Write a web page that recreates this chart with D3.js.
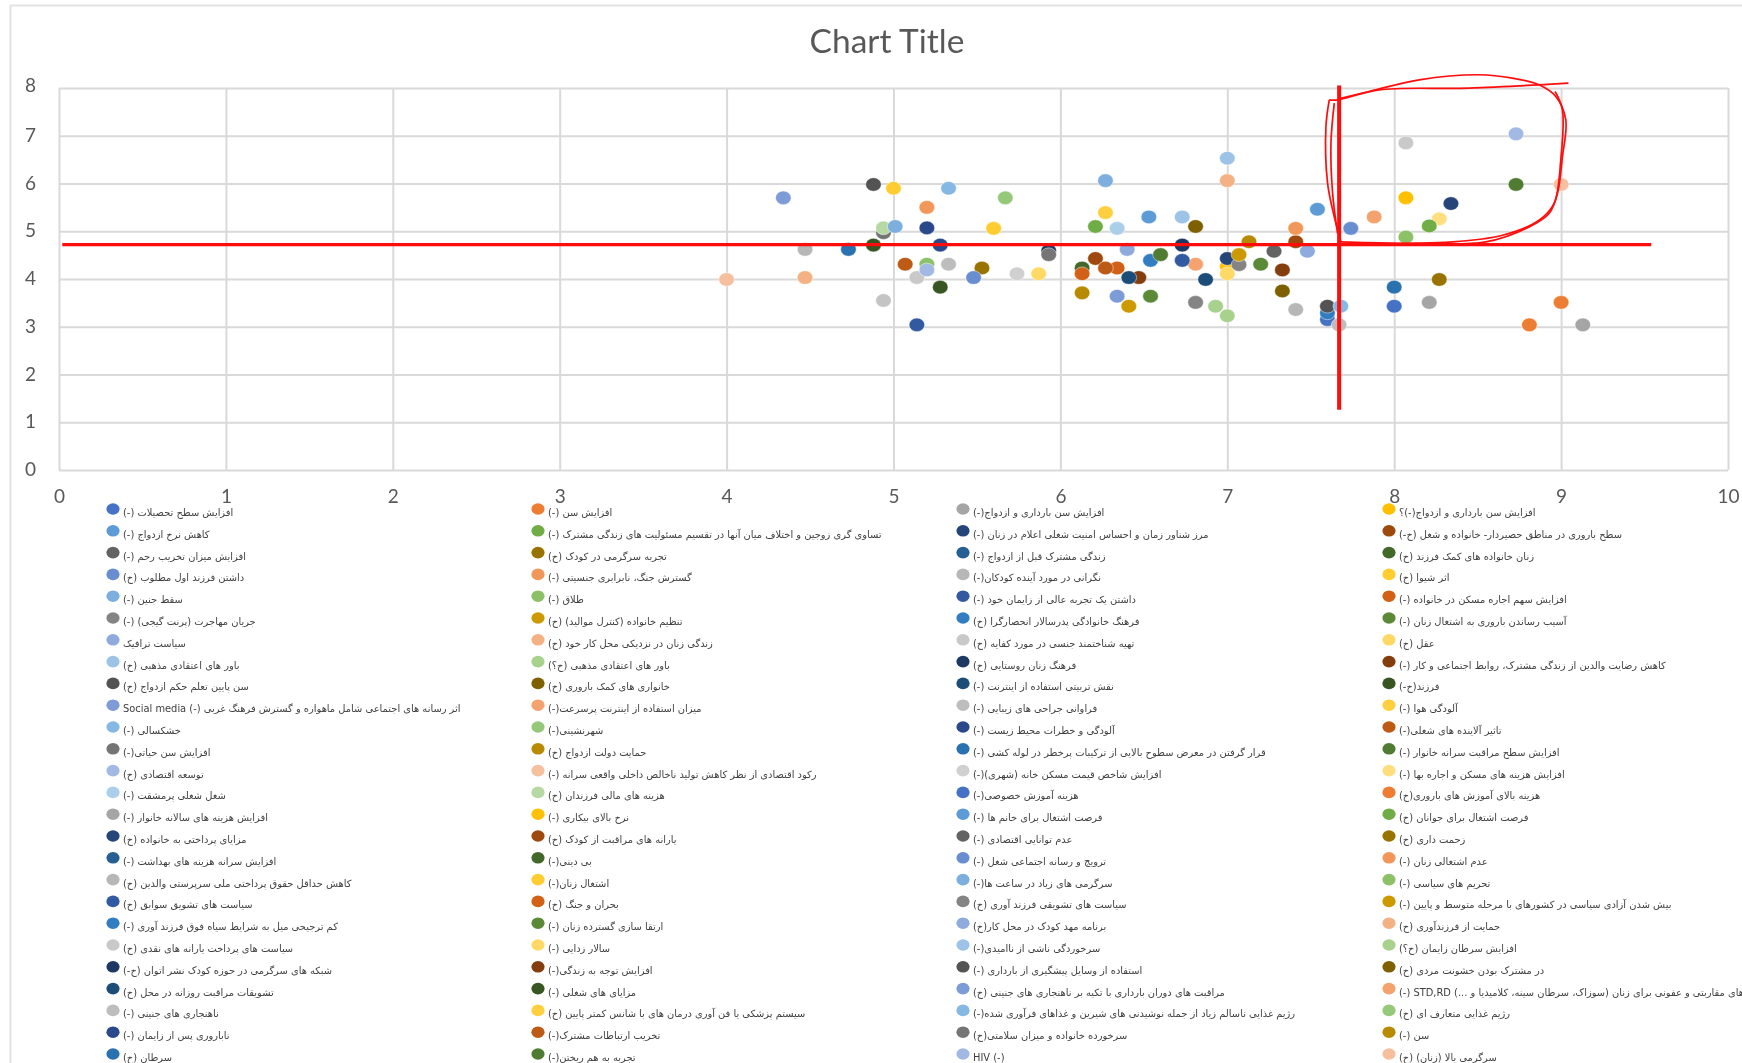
<!DOCTYPE html>
<html lang="fa">
<head>
<meta charset="utf-8">
<script src="https://cdn.jsdelivr.net/npm/d3@7"></script>
<style>
html,body{margin:0;padding:0;background:#fff;overflow:hidden}
svg{display:block}
</style>
</head>
<body>
<svg id="chart" width="1742" height="1063"></svg>
<script>
const chartTitle = "Chart Title";
const xTicks = [0,1,2,3,4,5,6,7,8,9,10];
const yTicks = [0,1,2,3,4,5,6,7,8];

// Legend order, row by row across the four legend columns.
const seriesLabels = [
"افزایش سطح تحصیلات (-)","افزایش سن (-)","افزایش سن بارداری و ازدواج(-)","افزایش سن بارداری و ازدواج(-)؟",
"کاهش نرخ ازدواج (-)","تساوی گری زوجین و اختلاف میان آنها در تقسیم مسئولیت های زندگی مشترک (-)","مرز شناور زمان و احساس امنیت شغلی اعلام در زنان (-)","سطح باروری در مناطق حصیردار- خانواده و شغل (خ-)",
"افزایش میزان تخریب رحم (-)","تجربه سرگرمی در کودک (خ)","زندگی مشترک قبل از ازدواج (-)","زنان خانواده های کمک فرزند (خ)",
"داشتن فرزند اول مطلوب (خ)","گسترش جنگ، نابرابری جنسیتی (-)","نگرانی در مورد آینده کودکان(-)","اثر شیوا (خ)",
"سقط جنین (-)","طلاق (-)","داشتن یک تجربه عالی از زایمان خود (-)","افزایش سهم اجاره مسکن در خانواده (-)",
"جریان مهاجرت (پرنت گیجی) (-)","تنظیم خانواده (کنترل موالید) (خ)","فرهنگ خانوادگی پدرسالار انحصارگرا (خ)","آسیب رساندن باروری به اشتغال زنان (-)",
"سیاست ترافیک","زندگی زنان در نزدیکی محل کار خود (خ)","تهیه شناختمند جنسی در مورد کفایه (خ)","عقل (خ)",
"باور های اعتقادی مذهبی (خ)","باور های اعتقادی مذهبی (خ؟)","فرهنگ زنان روستایی (خ)","کاهش رضایت والدین از زندگی مشترک، روابط اجتماعی و کار (-)",
"سن پایین تعلم حکم ازدواج (خ)","خانواری های کمک باروری (خ)","نقش تربیتی استفاده از اینترنت (-)","فرزند(خ-)",
"اثر رسانه های اجتماعی شامل ماهواره و گسترش فرهنگ غربی (-) Social media","میزان استفاده از اینترنت پرسرعت(-)","فراوانی جراحی های زیبایی (-)","آلودگی هوا (-)",
"خشکسالی (-)","شهرنشینی(-)","آلودگی و خطرات محیط زیست (-)","تاثیر آلاینده های شغلی(-)",
"افزایش سن حیاتی(-)","حمایت دولت ازدواج (خ)","قرار گرفتن در معرض سطوح بالایی از ترکیبات پرخطر در لوله کشی (-)","افزایش سطح مراقبت سرانه خانوار (-)",
"توسعه اقتصادی (خ)","رکود اقتصادی از نظر کاهش تولید ناخالص داخلی واقعی سرانه (-)","افزایش شاخص قیمت مسکن خانه (شهری)(-)","افزایش هزینه های مسکن و اجاره بها (-)",
"شغل شغلی پرمشقت (-)","هزینه های مالی فرزندان (خ)","هزینه آموزش خصوصی(-)","هزینه بالای آموزش های باروری(خ)",
"افزایش هزینه های سالانه خانوار (-)","نرخ بالای بیکاری (-)","فرصت اشتغال برای خانم ها (-)","فرصت اشتغال برای جوانان (خ)",
"مزایای پرداختی به خانواده (خ)","یارانه های مراقبت از کودک (خ)","عدم توانایی اقتصادی (-)","زحمت داری (خ)",
"افزایش سرانه هزینه های بهداشت (-)","بی دینی(-)","ترویج و رسانه اجتماعی شغل (-)","عدم اشتغالی زنان (-)",
"کاهش حداقل حقوق پرداختی ملی سرپرستی والدین (خ)","اشتغال زنان(-)","سرگرمی های زیاد در ساعت ها(-)","تحریم های سیاسی (-)",
"سیاست های تشویق سوابق (خ)","بحران و جنگ (خ)","سیاست های تشویقی فرزند آوری (خ)","بیش شدن آزادی سیاسی در کشورهای با مرحله متوسط و پایین (-)",
"کم ترجیحی میل به شرایط سیاه فوق فرزند آوری (-)","ارتقا سازی گسترده زنان (-)","برنامه مهد کودک در محل کار(خ)","حمایت از فرزندآوری (خ)",
"سیاست های پرداخت یارانه های نقدی (خ)","سالار زدایی (-)","سرخوردگی ناشی از ناامیدی(-)","افزایش سرطان زایمان (خ؟)",
"شبکه های سرگرمی در حوزه کودک نشر اتوان (خ-)","افزایش توجه به زندگی(-)","استفاده از وسایل پیشگیری از بارداری (-)","در مشترک بودن خشونت مردی (خ)",
"تشویقات مراقبت روزانه در محل (خ)","مزایای های شغلی (-)","مراقبت های دوران بارداری با تکیه بر ناهنجاری های جنینی (خ)","بیماری های مقاربتی و عفونی برای زنان (سوزاک، سرطان سینه، کلامیدیا و ...) STD,RD (-)",
"ناهنجاری های جنینی (-)","سیستم پزشکی یا فن آوری درمان های با شانس کمتر پایین (خ)","رژیم غذایی ناسالم زیاد از جمله نوشیدنی های شیرین و غذاهای فرآوری شده(-)","رژیم غذایی متعارف ای (خ)",
"ناباروری پس از زایمان (-)","تخریب ارتباطات مشترک(-)","سرخورده خانواده و میزان سلامتی(خ)","سن (-)",
"سرطان (خ)","تجربه به هم ریختن(-)","HIV (-)\u200E","سرگرمی بالا (زنان) (خ)"
];

const seriesColors = [
"#4472C4","#ED7D31","#A5A5A5","#FFC000",
"#5B9BD5","#70AD47","#264478","#9E480E",
"#636363","#997300","#255E91","#43682B",
"#698ED0","#F1975A","#B7B7B7","#FFCD33",
"#7CAFDD","#8CC168","#335AA1","#D26012",
"#848484","#CC9A00","#327DC2","#5A8A39",
"#8FAADC","#F4B183","#C9C9C9","#FFD966",
"#9DC3E6","#A9D18E","#1F3864","#843C0C",
"#525252","#7F6000","#1F4E79","#385723",
"#7D9BD6","#F4A26E","#BDBDBD","#FFCF40",
"#86B8E4","#96C87A","#2C4A8B","#BC5A14",
"#757575","#B88A00","#2B71AF","#4F7C31",
"#A2B9E3","#F6BF9E","#D0D0D0","#FFDE7F",
"#ABCFEB","#B6D9A4","#4472C4","#ED7D31",
"#A5A5A5","#FFC000","#5B9BD5","#70AD47",
"#264478","#9E480E","#636363","#997300",
"#255E91","#43682B","#698ED0","#F1975A",
"#B7B7B7","#FFCD33","#7CAFDD","#8CC168",
"#335AA1","#D26012","#848484","#CC9A00",
"#327DC2","#5A8A39","#8FAADC","#F4B183",
"#C9C9C9","#FFD966","#9DC3E6","#A9D18E",
"#1F3864","#843C0C","#525252","#7F6000",
"#1F4E79","#385723","#7D9BD6","#F4A26E",
"#BDBDBD","#FFCF40","#86B8E4","#96C87A",
"#2C4A8B","#BC5A14","#757575","#B88A00",
"#2B71AF","#4F7C31","#A2B9E3","#F6BF9E",
"#C4C4C4"
];

// Null where no marker can be seen. The last entry has no visible legend row.
const xValues = [
8.00,9.00,9.13,8.07,
6.53,6.21,8.34,6.21,
7.28,5.53,null,6.13,
5.48,5.20,4.47,5.00,
6.27,5.20,5.14,6.13,
6.81,6.41,6.54,7.20,
6.40,4.47,5.14,5.87,
6.73,6.93,6.73,6.47,
4.88,6.81,6.41,4.88,
4.34,6.81,5.33,6.27,
5.33,5.67,5.28,5.07,
4.94,6.13,4.73,6.60,
5.20,4.00,5.74,8.27,
6.34,4.94,7.60,8.81,
8.21,7.00,7.54,8.21,
7.00,7.41,null,8.27,
null,null,7.74,7.41,
7.41,5.60,5.01,8.07,
6.73,6.34,7.07,7.07,
7.60,6.54,7.48,7.00,
8.07,7.00,7.00,7.00,
5.93,7.33,7.60,7.33,
6.87,5.28,6.34,7.88,
7.67,null,7.68,null,
5.20,6.27,5.93,7.13,
8.00,8.73,8.73,9.00,
4.94
];
const yValues = [
3.43,3.51,3.04,5.70,
5.30,5.10,5.58,4.43,
4.58,4.23,null,4.23,
4.03,5.50,4.62,5.90,
6.06,4.31,3.04,4.11,
3.51,3.43,4.39,4.31,
4.62,4.03,4.03,4.11,
5.30,3.43,4.71,4.03,
5.98,5.10,4.03,4.71,
5.70,4.31,4.31,5.39,
5.90,5.70,4.71,4.31,
4.97,3.71,4.62,4.51,
4.19,3.99,4.11,5.26,
5.06,5.07,3.15,3.04,
3.51,4.26,5.46,5.11,
4.43,4.78,null,3.99,
null,null,5.06,5.06,
3.36,5.06,5.10,4.88,
4.39,4.23,4.30,4.51,
3.29,3.64,4.58,6.06,
6.85,4.11,6.53,3.23,
4.59,4.19,3.43,3.75,
3.99,3.83,3.64,5.30,
3.04,null,3.43,null,
5.07,4.23,4.51,4.78,
3.83,5.98,7.04,5.98,
3.55
];

// Hand-drawn red annotation, in chart units.
const crossHorizontalY = 4.72;
const crossHorizontalX = [0.02, 9.54];
const crossVerticalX = 7.67;
const crossVerticalY = [8.05, 1.26];
const scribbleOuter = [[7.661,7.766],[7.850,7.927],[8.150,8.172],[8.509,8.277],[8.709,8.207],[8.868,8.067],[8.968,7.822],[9.028,7.332],[9.008,6.562],[8.978,5.792],[8.928,5.372],[8.809,5.091],[8.549,4.776],[8.150,4.741],[7.910,4.755],[7.681,4.776]];
const scribbleTop = [[7.611,7.752],[7.661,7.752],[7.910,7.962],[8.449,7.997],[9.044,8.102]];
const scribbleRight = [[8.964,7.927],[9.008,7.542],[8.998,6.492],[8.958,5.582],[8.868,5.231],[8.649,4.916],[8.349,4.776],[7.691,4.741]];
const scribbleLeftOuter = [[7.611,7.752],[7.591,7.192],[7.601,6.002],[7.641,5.301],[7.681,4.776]];
const scribbleLeftInner = [[7.641,7.682],[7.621,6.842],[7.631,5.792],[7.661,4.951]];

const svg = d3.select("#chart");
const W = 1742, H = 1063;
const plot = {left:59, right:1728, top:88, bottom:470};
const x = d3.scaleLinear().domain([0,10]).range([plot.left, plot.right]);
const y = d3.scaleLinear().domain([0,8]).range([plot.bottom, plot.top]);

const defs = svg.append("defs");
const addBlur = (id,dev) => defs.append("filter").attr("id",id)
  .attr("filterUnits","userSpaceOnUse").attr("x",0).attr("y",0).attr("width",W).attr("height",H)
  .append("feGaussianBlur").attr("stdDeviation",dev);
addBlur("soft",0.7);
addBlur("softer",0.45);

const base = svg.append("g").attr("filter","url(#softer)");

// frame
base.append("path").attr("d",`M10.5,${H} V5.5 H${W}`).attr("fill","none").attr("stroke","#E3E3E3").attr("stroke-width",2);

// title
base.append("text").attr("x",887).attr("y",53).attr("text-anchor","middle")
  .attr("font-family","Lato, 'Open Sans', sans-serif").attr("font-size",33.5).attr("fill","#595959").text(chartTitle);

// axes with gridlines
const gridColor = "#D9D9D9";
const gx = base.append("g").attr("transform",`translate(0,${plot.bottom})`)
  .call(d3.axisBottom(x).tickValues(xTicks).tickFormat(d3.format("d")).tickSize(-(plot.bottom-plot.top)).tickPadding(20));
const gy = base.append("g").attr("transform",`translate(${plot.left},0)`)
  .call(d3.axisLeft(y).tickValues(yTicks).tickFormat(d3.format("d")).tickSize(plot.right-plot.left).tickPadding(0));
gy.selectAll(".tick line").attr("x1",0).attr("x2",plot.right-plot.left);
gy.selectAll(".tick text").attr("x",-23).attr("dy","0.3em").attr("text-anchor","end");
[gx,gy].forEach(g=>{
  g.select(".domain").remove();
  g.selectAll(".tick line").attr("stroke",gridColor).attr("stroke-width",2);
  g.selectAll(".tick text").attr("fill","#595959").attr("font-family","Lato, 'Open Sans', sans-serif").attr("font-size",19);
});
gy.selectAll(".tick").filter(d=>d===8).select("text").attr("dy","0.2em");

// markers
const points = xValues.map((v,i)=>({x:v,y:yValues[i],color:seriesColors[i]})).filter(d=>d.x!==null&&d.y!==null);
base.append("g").selectAll("ellipse").data(points).join("ellipse")
  .attr("cx",d=>x(d.x)).attr("cy",d=>y(d.y)).attr("rx",7.8).attr("ry",6.8)
  .attr("fill",d=>d.color).attr("stroke","#fff").attr("stroke-opacity",0.6).attr("stroke-width",0.8);

// legend
const legendCols = [113,538,963,1389];
const legendRow = d3.scaleLinear().domain([0,25]).range([509,1054]);
const legend = svg.append("g").attr("filter","url(#soft)");
const items = legend.selectAll("g").data(seriesLabels).join("g")
  .attr("transform",(d,i)=>`translate(${legendCols[i%4]},${legendRow(Math.floor(i/4))})`);
items.append("ellipse").attr("rx",6.6).attr("ry",5.8).attr("fill",(d,i)=>seriesColors[i]);
items.append("text").attr("x",10).attr("y",7)
  .attr("direction","rtl").attr("text-anchor","end")
  .attr("font-family","'DejaVu Sans', sans-serif").attr("font-size",9.9).attr("fill","#404040").text(d=>d);

// red annotation drawn on top
const red = svg.append("g").attr("fill","none").attr("stroke","#FF0A0A").attr("filter","url(#softer)");
red.append("line").attr("x1",x(crossHorizontalX[0])).attr("x2",x(crossHorizontalX[1])).attr("y1",y(crossHorizontalY)).attr("y2",y(crossHorizontalY)).attr("stroke-width",3.4);
red.append("line").attr("x1",x(crossVerticalX)).attr("x2",x(crossVerticalX)).attr("y1",y(crossVerticalY[0])).attr("y2",y(crossVerticalY[1])).attr("stroke-width",4);
const scribble = d3.line().x(d=>x(d[0])).y(d=>y(d[1])).curve(d3.curveCatmullRom.alpha(0.5));
[scribbleOuter,scribbleTop,scribbleRight,scribbleLeftOuter,scribbleLeftInner].forEach(s=>{
  red.append("path").attr("d",scribble(s)).attr("stroke-width",1.7);
});
</script>
</body>
</html>
